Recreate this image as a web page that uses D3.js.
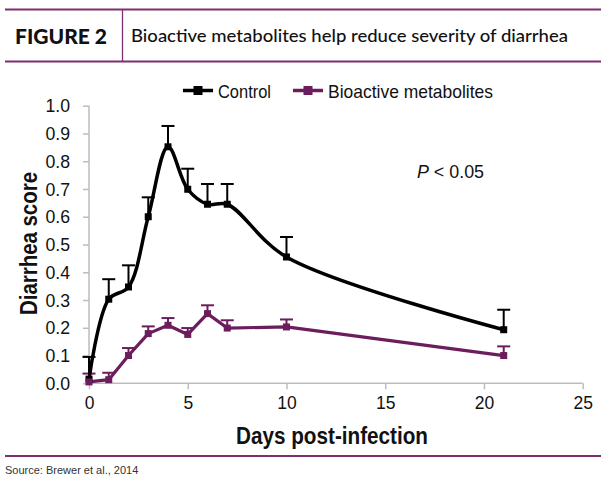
<!DOCTYPE html>
<html>
<head>
<meta charset="utf-8">
<script src="https://cdn.jsdelivr.net/npm/d3@7/dist/d3.min.js"></script>
<style>
  html, body { margin: 0; padding: 0; background: #ffffff; }
  svg { display: block; }
  .cond { font-family: "Liberation Sans", Arial, sans-serif; }
</style>
</head>
<body>
<svg id="chart" width="610" height="481"></svg>
<script>
// ---- data ----
const days = [0, 1, 2, 3, 4, 5, 6, 7, 10, 21];
const controlMean = [0.015, 0.303, 0.347, 0.600, 0.852, 0.699, 0.645, 0.645, 0.455, 0.193];
const controlErr  = [0.080, 0.072, 0.078, 0.070, 0.075, 0.074, 0.073, 0.073, 0.072, 0.072];
const bioMean = [0.005, 0.013, 0.100, 0.179, 0.209, 0.176, 0.251, 0.199, 0.203, 0.100];
const bioErr  = [0.030, 0.025, 0.027, 0.026, 0.026, 0.023, 0.030, 0.028, 0.027, 0.033];
const seriesNames = ["Control", "Bioactive metabolites"];
const xTicks = [0, 5, 10, 15, 20, 25];
const yTicks = [0, 0.1, 0.2, 0.3, 0.4, 0.5, 0.6, 0.7, 0.8, 0.9, 1.0];
const figureLabel = "FIGURE 2";
const titleText = "Bioactive metabolites help reduce severity of diarrhea";
const sourceText = "Source: Brewer et al., 2014";

// ---- setup ----
const svg = d3.select("#chart");
const purple = "#6b1d5c";
const ruleColor = "#7d2f6f";
const axisColor = "#bdbdbd";

const x = d3.scaleLinear().domain([0, 25]).range([89, 582.7]);
const y = d3.scaleLinear().domain([0, 1]).range([383.3, 105.7]);

function fitTo(sel, len) {
  return sel.attr("textLength", len).attr("lengthAdjust", "spacingAndGlyphs");
}
function squeeze(sel, f) {
  sel.each(function () {
    const w = this.getComputedTextLength();
    d3.select(this).attr("textLength", w * f).attr("lengthAdjust", "spacingAndGlyphs");
  });
}

// ---- header ----
svg.append("line").attr("x1", 5).attr("x2", 601).attr("y1", 9.5).attr("y2", 9.5)
  .attr("stroke", ruleColor).attr("stroke-width", 2);
svg.append("line").attr("x1", 5).attr("x2", 601).attr("y1", 61.5).attr("y2", 61.5)
  .attr("stroke", ruleColor).attr("stroke-width", 2);
svg.append("line").attr("x1", 122.5).attr("x2", 122.5).attr("y1", 9.5).attr("y2", 61.5)
  .attr("stroke", ruleColor).attr("stroke-width", 1.3);
fitTo(svg.append("text").attr("x", 15).attr("y", 43.5)
  .attr("font-family", "Lato, 'Open Sans', sans-serif").attr("font-weight", 900)
  .attr("font-size", 20.5).attr("fill", "#111")
  .text(figureLabel), 92);
fitTo(svg.append("text").attr("x", 131).attr("y", 42)
  .attr("font-family", "Lato, 'Open Sans', sans-serif").attr("font-weight", 500)
  .attr("font-size", 18).attr("fill", "#111")
  .text(titleText), 437);

// ---- axes ----
const gx = svg.append("g").attr("transform", `translate(0,${y(0)})`)
  .call(d3.axisBottom(x).tickValues(xTicks).tickSize(6).tickPadding(6).tickFormat(d3.format("d")));
gx.select(".domain").attr("stroke", axisColor).attr("stroke-width", 1.5)
  .attr("d", `M${x(0)},0H${x(25)}`);
gx.selectAll(".tick line").attr("stroke", axisColor).attr("stroke-width", 1.5);
gx.selectAll(".tick text").attr("class", "cond").attr("font-size", 19).attr("fill", "#111")
  .attr("font-family", "'Liberation Sans', Arial, sans-serif");
squeeze(gx.selectAll(".tick text"), 0.92);

const gy = svg.append("g").attr("transform", `translate(${x(0)},0)`)
  .call(d3.axisLeft(y).tickValues(yTicks).tickSize(6).tickPadding(13).tickFormat(d3.format(".1f")));
gy.select(".domain").attr("stroke", axisColor).attr("stroke-width", 1.5)
  .attr("d", `M0,${y(0)}V${y(1)}`);
gy.selectAll(".tick line").attr("stroke", axisColor).attr("stroke-width", 1.5);
gy.selectAll(".tick text").attr("class", "cond").attr("font-size", 19).attr("fill", "#111")
  .attr("font-family", "'Liberation Sans', Arial, sans-serif");
squeeze(gy.selectAll(".tick text"), 0.93);

// axis titles
fitTo(svg.append("text").attr("class", "cond")
  .attr("x", 332).attr("y", 444).attr("text-anchor", "middle")
  .attr("font-size", 24).attr("font-weight", "bold").attr("fill", "#111")
  .text("Days post-infection"), 192);
fitTo(svg.append("text").attr("class", "cond")
  .attr("transform", "translate(36.5,243.5) rotate(-90)").attr("text-anchor", "middle")
  .attr("font-size", 24).attr("font-weight", "bold").attr("fill", "#111")
  .text("Diarrhea score"), 143);

// ---- series ----
const controlData = days.map((d, i) => ({ d, v: controlMean[i], e: controlErr[i] }));
const bioData = days.map((d, i) => ({ d, v: bioMean[i], e: bioErr[i] }));

function errorBars(data, color) {
  const g = svg.append("g");
  g.selectAll("line.v").data(data).join("line")
    .attr("x1", p => x(p.d)).attr("x2", p => x(p.d))
    .attr("y1", p => y(p.v)).attr("y2", p => y(p.v + p.e))
    .attr("stroke", color).attr("stroke-width", 2);
  g.selectAll("line.c").data(data).join("line")
    .attr("x1", p => x(p.d) - 6.5).attr("x2", p => x(p.d) + 6.5)
    .attr("y1", p => y(p.v + p.e)).attr("y2", p => y(p.v + p.e))
    .attr("stroke", color).attr("stroke-width", 2);
}
errorBars(controlData, "#000");
errorBars(bioData, purple);

const controlLine = d3.line().x(p => x(p.d)).y(p => y(p.v)).curve(d3.curveCatmullRom.alpha(0.5));
const bioLine = d3.line().x(p => x(p.d)).y(p => y(p.v)).curve(d3.curveLinear);

svg.append("path").datum(controlData).attr("d", controlLine)
  .attr("fill", "none").attr("stroke", "#000").attr("stroke-width", 3.5).attr("stroke-linejoin", "round");
svg.append("path").datum(bioData).attr("d", bioLine)
  .attr("fill", "none").attr("stroke", purple).attr("stroke-width", 3.2).attr("stroke-linejoin", "round");

const ms = 7;
svg.append("g").selectAll("rect").data(controlData).join("rect")
  .attr("x", p => x(p.d) - ms / 2).attr("y", p => y(p.v) - ms / 2)
  .attr("width", ms).attr("height", ms).attr("fill", "#000");
svg.append("g").selectAll("rect").data(bioData).join("rect")
  .attr("x", p => x(p.d) - ms / 2).attr("y", p => y(p.v) - ms / 2)
  .attr("width", ms).attr("height", ms).attr("fill", purple);

// ---- legend ----
const legendItems = [
  { name: seriesNames[0], color: "#000", x0: 183, tx: 218, w: 53 },
  { name: seriesNames[1], color: purple, x0: 293, tx: 328, w: 165 }
];
const ly = 90.5;
legendItems.forEach(it => {
  svg.append("line").attr("x1", it.x0).attr("x2", it.x0 + 30).attr("y1", ly).attr("y2", ly)
    .attr("stroke", it.color).attr("stroke-width", 3.5);
  svg.append("rect").attr("x", it.x0 + 15 - 4.5).attr("y", ly - 4.5).attr("width", 9).attr("height", 9)
    .attr("fill", it.color);
  fitTo(svg.append("text").attr("class", "cond").attr("x", it.tx).attr("y", ly + 7)
    .attr("font-size", 19).attr("fill", "#111").text(it.name), it.w);
});

// ---- annotation ----
const ann = svg.append("text").attr("class", "cond").attr("x", 417).attr("y", 178)
  .attr("font-size", 19).attr("fill", "#111");
ann.append("tspan").attr("font-style", "italic").text("P");
ann.append("tspan").text(" < 0.05");
fitTo(ann, 67);

// ---- footer ----
svg.append("line").attr("x1", 5).attr("x2", 601).attr("y1", 456).attr("y2", 456)
  .attr("stroke", ruleColor).attr("stroke-width", 2);
svg.append("text").attr("x", 5).attr("y", 474)
  .attr("font-family", "'Liberation Sans', Arial, sans-serif").attr("font-size", 11).attr("fill", "#333")
  .text(sourceText);
</script>
</body>
</html>
